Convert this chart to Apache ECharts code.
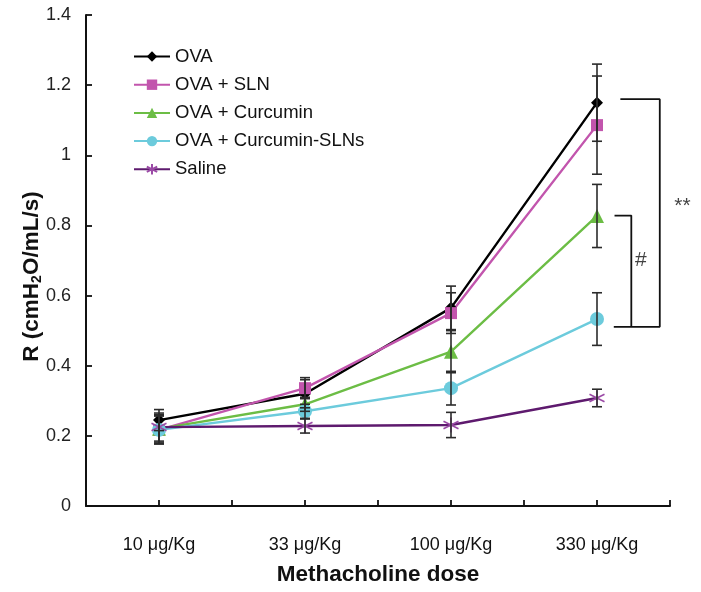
<!DOCTYPE html>
<html><head><meta charset="utf-8">
<script src="https://cdn.jsdelivr.net/npm/echarts@6/dist/echarts.min.js"></script>
<style>html,body{margin:0;padding:0;background:#fff}#c{width:701px;height:592px}</style>
</head><body><div id="c"></div>
<script>
const categories = ['10 μg/Kg', '33 μg/Kg', '100 μg/Kg', '330 μg/Kg'];
const seriesNames = ['OVA', 'OVA + SLN', 'OVA + Curcumin', 'OVA + Curcumin-SLNs', 'Saline'];
const ova      = [0.245, 0.32, 0.565, 1.15];
const ovaSln   = [0.217, 0.336, 0.55, 1.086];
const ovaCur   = [0.22, 0.29, 0.44, 0.827];
const ovaCurSln= [0.217, 0.27, 0.336, 0.533];
const saline   = [0.225, 0.228, 0.231, 0.308];
const ovaErr      = [0.03, 0.04, 0.062, 0.11];
const ovaSlnErr   = [0.04, 0.03, 0.058, 0.14];
const ovaCurErr   = [0.04, 0.02, 0.06, 0.09];
const ovaCurSlnErr= [0.04, 0.02, 0.048, 0.075];
const salineErr   = [0.04, 0.02, 0.036, 0.025];
const yTicks = [0, 0.2, 0.4, 0.6, 0.8, 1, 1.2, 1.4];
// significance brackets (x in half-category units, y in data units)
const bracketOuter = [[7.32, 1.16], [7.86, 1.16], [7.86, 0.511], [7.23, 0.511]];
const bracketInner = [[7.24, 0.828], [7.47, 0.828], [7.47, 0.511]];
const sigLabels = [{x: 8.17, y: 0.855, text: '**'}, {x: 7.6, y: 0.70, text: '#'}];

const values = [ova, ovaSln, ovaCur, ovaCurSln, saline];
const errs = [ovaErr, ovaSlnErr, ovaCurErr, ovaCurSlnErr, salineErr];
const lineColors = ['#000000', '#c255ad', '#6cbd45', '#6ccbdc', '#5e1a6e'];
const symColors  = ['#000000', '#c255ad', '#6cbd45', '#6ccbdc', '#9b4aa6'];
const symbols = ['diamond', 'rect', 'triangle', 'circle', 'path://M0,-10L0,10M-8.66,-5L8.66,5M-8.66,5L8.66,-5'];
const symSizes = [12, 12, 14, 14, 15];
const xPos = i => i * 2 + 1;
const FONT = 'Liberation Sans, Arial, sans-serif';

const chart = echarts.init(document.getElementById('c'));
const series = [];
values.forEach((vals, k) => {
  const isStar = k === 4;
  series.push({
    name: seriesNames[k], type: 'line', z: 3,
    data: vals.map((v, i) => [xPos(i), v]),
    symbol: symbols[k], symbolSize: symSizes[k],
    lineStyle: {color: lineColors[k], width: 2.4},
    itemStyle: isStar ? {color: 'rgba(0,0,0,0)', borderColor: symColors[k], borderWidth: 1.6}
                      : {color: symColors[k], borderColor: symColors[k], borderWidth: 0},
    emphasis: {disabled: true}
  });
});
const errData = [];
values.forEach((vals, k) => vals.forEach((v, i) => errData.push([xPos(i), v - errs[k][i], v + errs[k][i]])));
series.push({
  type: 'custom', z: 4, silent: true,
  data: errData,
  encode: {x: 0, y: [1, 2]},
  renderItem: (params, api) => {
    const lo = api.coord([api.value(0), api.value(1)]);
    const hi = api.coord([api.value(0), api.value(2)]);
    const w = 5;
    const st = {stroke: '#2b2b2b', lineWidth: 1.6};
    return {type: 'group', children: [
      {type: 'line', shape: {x1: lo[0], y1: lo[1], x2: hi[0], y2: hi[1]}, style: st},
      {type: 'line', shape: {x1: lo[0]-w, y1: lo[1], x2: lo[0]+w, y2: lo[1]}, style: st},
      {type: 'line', shape: {x1: hi[0]-w, y1: hi[1], x2: hi[0]+w, y2: hi[1]}, style: st}
    ]};
  }
});
[bracketOuter, bracketInner].forEach(b => series.push({
  type: 'line', data: b, symbol: 'none', silent: true, z: 2, clip: false,
  lineStyle: {color: '#111', width: 1.8}
}));
series.push({
  type: 'scatter', silent: true, symbolSize: 0, clip: false,
  data: sigLabels.map(s => ({value: [s.x, s.y], label: {formatter: s.text}})),
  label: {show: true, position: 'inside', fontSize: 21, color: '#111', fontFamily: FONT}
});

chart.setOption({
  animation: false,
  backgroundColor: '#fff',
  textStyle: {fontFamily: FONT},
  grid: {left: 86, right: 31, top: 15, bottom: 86, containLabel: false, outerBoundsMode: 'none'},
  legend: {
    data: seriesNames, orient: 'vertical', left: 128, top: 42,
    itemWidth: 36, itemHeight: 13, itemGap: 9.2,
    textStyle: {fontSize: 18.5, color: '#111', fontFamily: FONT}
  },
  xAxis: {
    type: 'value', min: 0, max: 8, interval: 1,
    axisLine: {lineStyle: {color: '#111', width: 2}},
    axisTick: {inside: true, length: 6, lineStyle: {color: '#111', width: 1.8}},
    splitLine: {show: false},
    axisLabel: {margin: 30, fontSize: 18, color: '#111', showMinLabel: true, showMaxLabel: true,
      formatter: v => (v % 2 === 1 ? categories[(v - 1) / 2] : '')},
    name: 'Methacholine dose', nameLocation: 'middle', nameGap: 57, nameMoveOverlap: false,
    nameTextStyle: {fontSize: 22.5, fontWeight: 'bold', color: '#111'}
  },
  yAxis: {
    type: 'value', min: yTicks[0], max: yTicks[yTicks.length - 1], interval: 0.2,
    axisLine: {show: true, lineStyle: {color: '#111', width: 2}},
    axisTick: {show: true, inside: true, length: 6, lineStyle: {color: '#111', width: 1.8}},
    splitLine: {show: false},
    axisLabel: {margin: 15, fontSize: 18, color: '#222'},
    name: '{a|R (cmH}{s|2}{a|O/mL/s)}', nameLocation: 'middle', nameGap: 42, nameRotate: 90, nameMoveOverlap: false,
    nameTextStyle: {padding: [0, 32, 0, 0], rich: {
      a: {fontSize: 22.5, fontWeight: 'bold', color: '#111', fontFamily: FONT},
      s: {fontSize: 14, fontWeight: 'bold', color: '#111', verticalAlign: 'bottom', padding: [10, 0, 0, 0], fontFamily: FONT}
    }}
  },
  series: series
});
</script></body></html>
